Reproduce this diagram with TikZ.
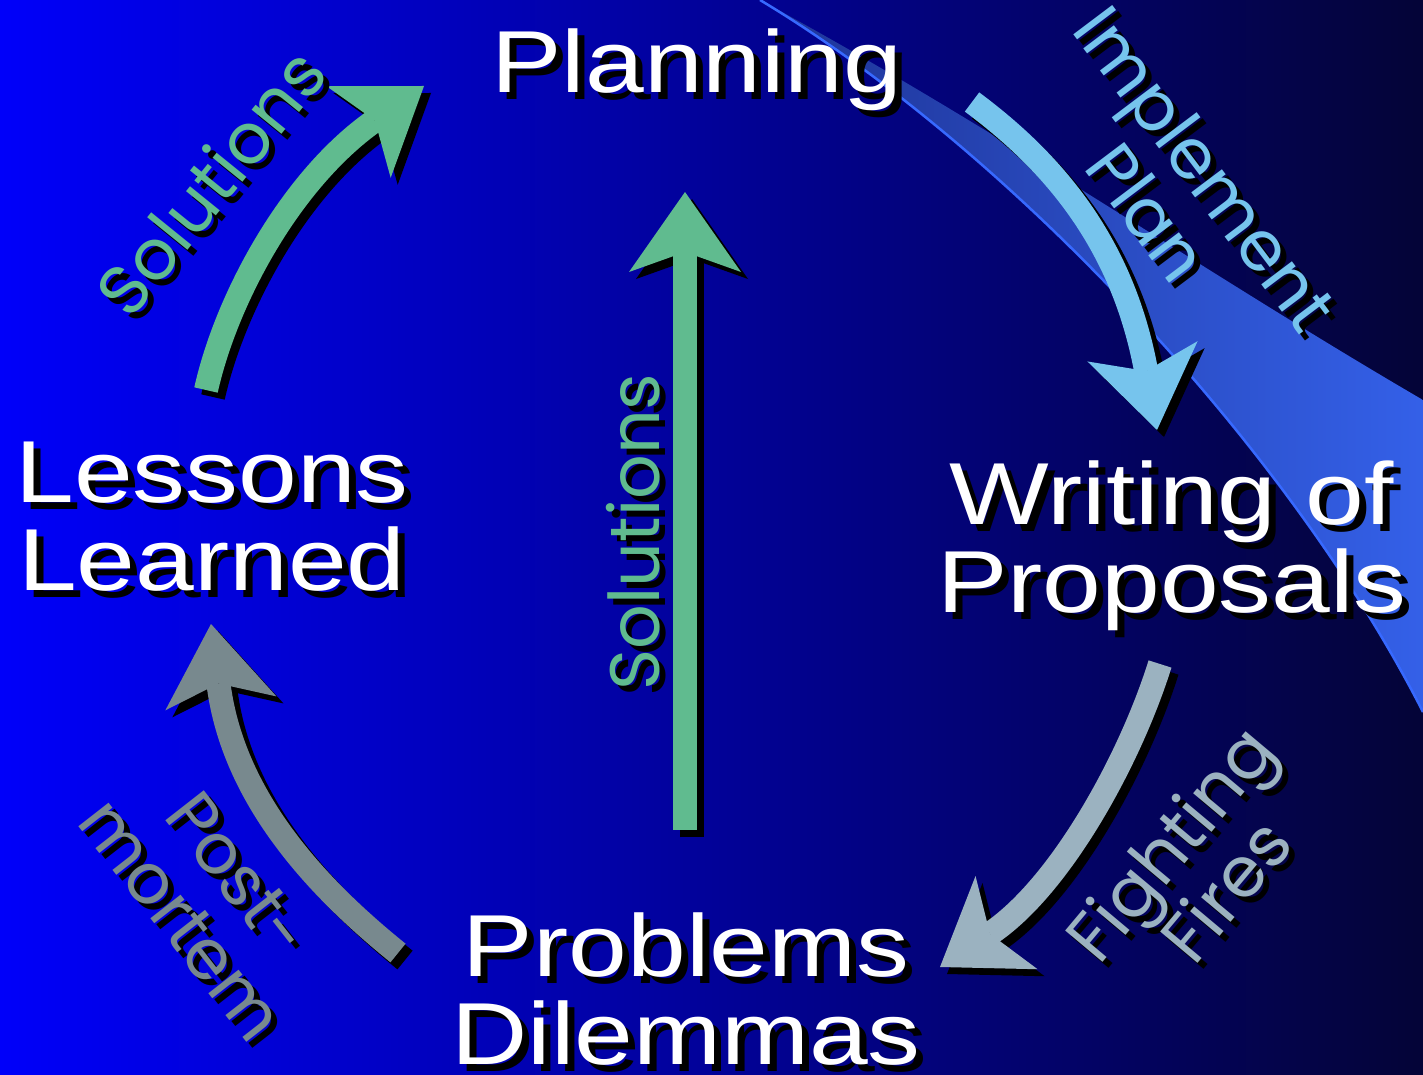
\documentclass[tikz,border=0pt]{standalone}
\usepackage{fontspec}
\newfontfamily\stagefont[FakeStretch=1.2]{Liberation Sans}
\newfontfamily\edgefont{Poppins}
\usetikzlibrary{arrows.meta}

\definecolor{bgleft}{RGB}{0,0,250}
\definecolor{bgmid}{RGB}{0,0,185}
\definecolor{bgright}{RGB}{4,4,55}
\definecolor{swooshdark}{RGB}{30,52,150}
\definecolor{swooshlight}{RGB}{52,96,232}
\definecolor{swooshedge}{RGB}{55,105,255}
\definecolor{solgreen}{RGB}{96,187,143}
\definecolor{planblue}{RGB}{118,196,237}
\definecolor{firegrey}{RGB}{155,178,192}
\definecolor{postgrey}{RGB}{120,137,142}

\begin{document}
\begin{tikzpicture}[x=1pt, y=-1pt,
  stage/.style={font=\stagefont\fontsize{88}{88}\selectfont, text=white, align=center, inner sep=0pt},
  edge/.style={font=\edgefont\fontsize{70}{72}\selectfont, align=center, inner sep=0pt},
  flow/.style={line width=24pt, -{Stealth[length=80pt, width=112pt, inset=20pt, line width=0pt]}},
  dropped/.style={text=black}
]

\shade[left color=bgleft, middle color=bgmid, right color=bgright] (0,0) rectangle (1423,1075);
\useasboundingbox (0,0) rectangle (1423,1075);

% swoosh
\shade[left color=swooshdark, right color=swooshlight] (760,0) .. controls (1000,130) and (1200,270) .. (1423,400)
  -- (1423,712) .. controls (1290,450) and (1010,150) .. (760,0) -- cycle;
\draw[swooshedge, line width=2.5pt] (760,0) .. controls (1010,150) and (1290,450) .. (1423,712);

% arrow ends and bends
\coordinate (learnOut) at (206,390);
\coordinate (learnA) at (226,300);
\coordinate (learnB) at (290,180);
\coordinate (planIn) at (424,86);
\coordinate (planOut) at (972,102);
\coordinate (planA) at (1050,160);
\coordinate (planB) at (1122,240);
\coordinate (writeIn) at (1157,430);
\coordinate (writeOut) at (1160,664);
\coordinate (writeA) at (1130,760);
\coordinate (writeB) at (1060,887);
\coordinate (probIn) at (940,967);
\coordinate (probOut) at (398,953);
\coordinate (probA) at (320,890);
\coordinate (probB) at (233,800);
\coordinate (learnIn) at (211,624);
\coordinate (midOut) at (685,830);
\coordinate (midIn) at (685,192);

\begin{scope}[transform canvas={shift={(7pt,-7pt)}}]
\draw [flow, black] (learnOut) .. controls (learnA) and (learnB) .. (planIn);
\draw [flow, black] (planOut) .. controls (planA) and (planB) .. (writeIn);
\draw [flow, black] (writeOut) .. controls (writeA) and (writeB) .. (probIn);
\draw [flow, black] (probOut) .. controls (probA) and (probB) .. (learnIn);
\draw [flow, black] (midOut) -- (midIn);
\end{scope}

\draw [flow, solgreen] (learnOut) .. controls (learnA) and (learnB) .. (planIn);
\draw [flow, planblue] (planOut) .. controls (planA) and (planB) .. (writeIn);
\draw [flow, firegrey] (writeOut) .. controls (writeA) and (writeB) .. (probIn);
\draw [flow, postgrey] (probOut) .. controls (probA) and (probB) .. (learnIn);
\draw [flow, solgreen] (midOut) -- (midIn);

% stages
\node (planS) [stage, dropped, anchor=base] at (704,100) {Planning};
\node (plan) [stage, anchor=base] at (697,93) {Planning};
\node (learnS) [stage, dropped] at (219,524) {Lessons\\Learned};
\node (learn) [stage] at (212,517) {Lessons\\Learned};
\node (writeS) [stage, dropped] at (1179,553) {Writing of\\Proposals};
\node (write) [stage] at (1172,546) {Writing of\\Proposals};
\node (probS) [stage, dropped] at (693,996) {Problems\\Dilemmas};
\node (prob) [stage] at (686,989) {Problems\\Dilemmas};

% arrow labels
\node (solUpS) [edge, dropped, rotate=51] at (216,188) {Solutions};
\node (solUp) [edge, text=solgreen, rotate=51] at (210,182) {Solutions};
\node (solMidS) [edge, dropped, rotate=90] at (639,538) {Solutions};
\node (solMid) [edge, text=solgreen, rotate=90] at (633,532) {Solutions};
\node (implS) [edge, dropped, rotate=-53] at (1183,196) {Implement\\Plan};
\node (impl) [edge, text=planblue, rotate=-53] at (1177,190) {Implement\\Plan};
\node (fireS) [edge, dropped, rotate=50] at (1203,872) {Fighting\\Fires};
\node (fire) [edge, text=firegrey, rotate=50] at (1197,866) {Fighting\\Fires};
\node (postS) [edge, dropped, rotate=-52] at (216,903) {Post-\\mortem};
\node (post) [edge, text=postgrey, rotate=-52] at (210,897) {Post-\\mortem};

\end{tikzpicture}
\end{document}
